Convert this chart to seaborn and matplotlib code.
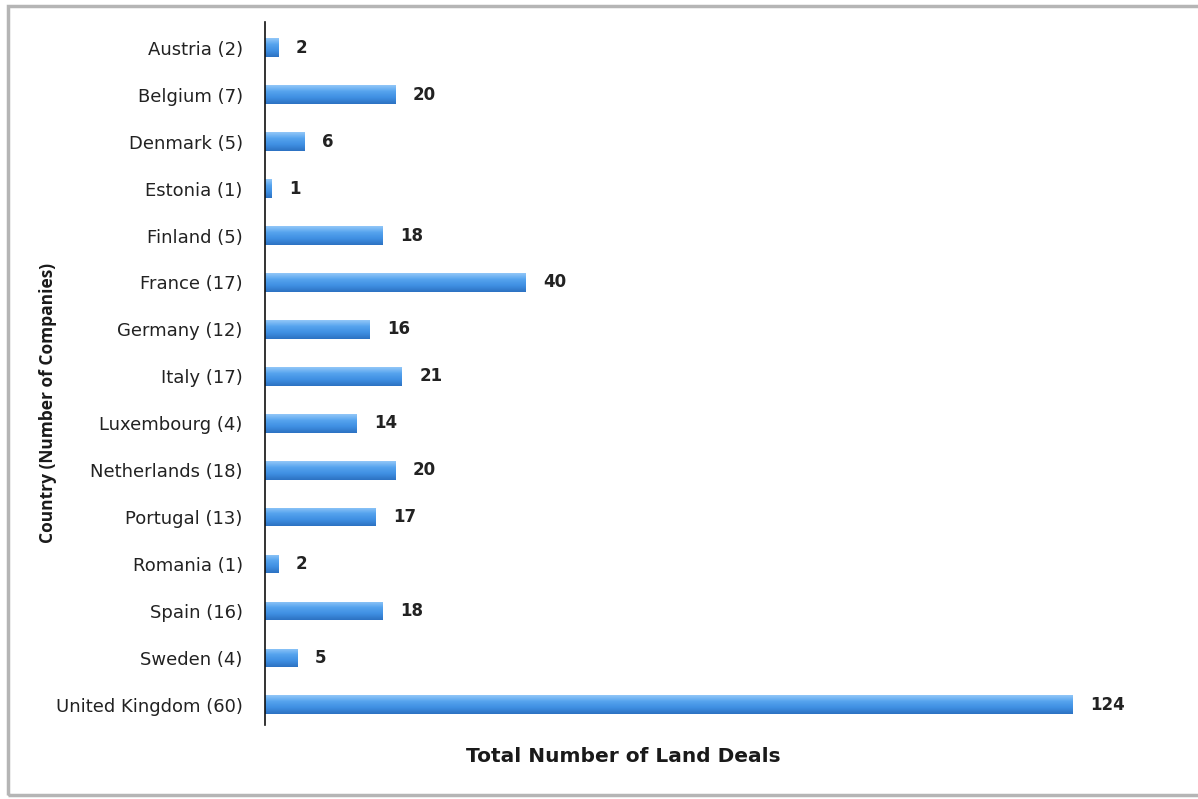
import matplotlib
matplotlib.use("Agg")
import matplotlib.pyplot as plt
from matplotlib.patches import Rectangle
from matplotlib.colors import LinearSegmentedColormap
import numpy as np
import seaborn as sns
import pandas as pd

countries = ["Austria (2)", "Belgium (7)", "Denmark (5)", "Estonia (1)", "Finland (5)",
             "France (17)", "Germany (12)", "Italy (17)", "Luxembourg (4)", "Netherlands (18)",
             "Portugal (13)", "Romania (1)", "Spain (16)", "Sweden (4)", "United Kingdom (60)"]
deals = [2, 20, 6, 1, 18, 40, 16, 21, 14, 20, 17, 2, 18, 5, 124]

df = pd.DataFrame({"country": countries, "deals": deals})

sns.set_theme(style="white")
plt.rcParams['font.family'] = ['DejaVu Sans']

W, H = 1198, 799
fig = plt.figure(figsize=(W / 100, H / 100), dpi=100)
fig.patch.set_facecolor("white")

left_px, right_px, top_px, bot_px = 265, 1150, 22, 725
ax = fig.add_axes([left_px / W, 1 - bot_px / H, (right_px - left_px) / W, (bot_px - top_px) / H])

sns.barplot(data=df, y="country", x="deals", orient="h", color="#3a8de0",
            saturation=1, width=0.4, ax=ax, order=countries)

xmax = (right_px - left_px) / 6.51
ax.set_xlim(0, xmax)
ax.set_ylim(len(countries) - 1 + 0.43, -0.55)

# vertical gradient fill on each bar (lighter top, darker bottom)
cmap = LinearSegmentedColormap.from_list("bar", ["#92c7f8", "#55a3ee", "#3f8fe2", "#2c72c2"])
grad = np.linspace(0, 1, 64).reshape(-1, 1)
for p in list(ax.patches):
    x0, y0 = p.get_x(), p.get_y()
    w, h = p.get_width(), p.get_height()
    im = ax.imshow(grad, cmap=cmap, aspect="auto", origin="upper",
                   extent=[x0, x0 + w, y0 + h, y0], zorder=p.get_zorder() + 0.1,
                   interpolation="bilinear")
    im.set_clip_path(p)
ax.set_xlim(0, xmax)
ax.set_ylim(len(countries) - 1 + 0.43, -0.55)

for i, v in enumerate(deals):
    ax.text(v + 2.7, i, str(v), va="center", ha="left", fontsize=12,
            fontweight="bold", color="#222222")

ax.set_xticks([])
ax.tick_params(axis="y", length=0, pad=16, labelsize=13)
for lab in ax.get_yticklabels():
    lab.set_color("#222222")
for s in ["top", "right", "bottom"]:
    ax.spines[s].set_visible(False)
ax.spines["left"].set_color("#111111")
ax.spines["left"].set_linewidth(1.2)
ax.set_ylabel("")
ax.set_xlabel("")

fig.text(623 / W, 1 - 757 / H, "Total Number of Land Deals", ha="center", va="center",
         fontsize=14.5, fontweight="bold", color="#1a1a1a")
fig.text(48 / W, 1 - 403 / H, "Country (Number of Companies)", ha="center", va="center",
         rotation=90, fontsize=12.5, fontweight="bold", color="#1a1a1a",
         family=["Open Sans", "DejaVu Sans"])

fig.patches.append(Rectangle((8 / W, 1 - 795 / H), (1205 - 8) / W, (795 - 6) / H,
                             transform=fig.transFigure, fill=False,
                             edgecolor="#b5b5b5", linewidth=2.5))

fig.savefig("out.png", dpi=100, facecolor="white")
